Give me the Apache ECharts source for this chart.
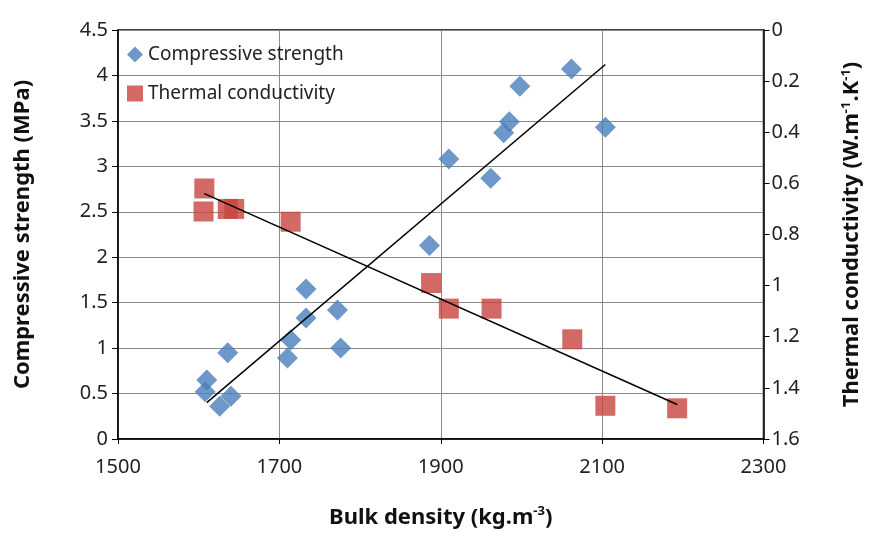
<!DOCTYPE html>
<html>
<head>
<meta charset="utf-8">
<script src="https://cdn.jsdelivr.net/npm/echarts@6/dist/echarts.min.js"></script>
<style>html,body{margin:0;padding:0;background:#fff}#c{width:871px;height:538px}</style>
</head>
<body>
<div id="c"></div>
<script>
// Compressive strength: [bulk density, MPa]
const csDensity = [1608, 1610, 1626, 1640, 1636, 1710, 1714, 1733, 1733, 1772, 1776, 1886, 1910, 1962, 1978, 1985, 1998, 2062, 2104];
const csValues  = [0.52, 0.65, 0.36, 0.47, 0.95, 0.89, 1.09, 1.33, 1.65, 1.42, 1.00, 2.13, 3.08, 2.87, 3.37, 3.49, 3.88, 4.07, 3.43];
// Thermal conductivity: [bulk density, W/m.K]
const tcDensity = [1607, 1606, 1636, 1644, 1714, 1888, 1910, 1963, 2063, 2104, 2193];
const tcValues  = [0.62, 0.71, 0.70, 0.70, 0.75, 0.99, 1.09, 1.09, 1.21, 1.47, 1.48];
// Trend line end points
const csTrendX = [1610, 2104];
const csTrendY = [0.40, 4.12];
const tcTrendX = [1607, 2193];
const tcTrendY = [0.64, 1.465];
// Axis ticks
const xTicks = [1500, 1700, 1900, 2100, 2300];
const leftTicks = [0, 0.5, 1, 1.5, 2, 2.5, 3, 3.5, 4, 4.5];
const rightTicks = [0, 0.2, 0.4, 0.6, 0.8, 1, 1.2, 1.4, 1.6];

const zip = (a, b) => a.map((v, i) => [v, b[i]]);
const FONT = 'Noto Sans';
const chart = echarts.init(document.getElementById('c'));
chart.setOption({
  animation: false,
  backgroundColor: '#fff',
  textStyle: { fontFamily: FONT },
  grid: { left: 118, right: 106, top: 30, bottom: 99, show: true, borderColor: '#000', borderWidth: 1.5, containLabel: false },
  legend: {
    orient: 'vertical', left: 122, top: 40, itemGap: 20, itemWidth: 16, itemHeight: 16,
    textStyle: { fontSize: 19, color: '#222', fontFamily: FONT },
    data: [{ name: 'Compressive strength', icon: 'diamond' }, { name: 'Thermal conductivity', icon: 'rect' }]
  },
  xAxis: {
    type: 'value', min: xTicks[0], max: xTicks[xTicks.length - 1], interval: 200,
    name: 'Bulk density (kg.m{sup|-3})', nameLocation: 'middle', nameGap: 66,
    nameTextStyle: { fontSize: 22, fontWeight: 'bold', color: '#111', fontFamily: FONT,
      rich: { sup: { fontSize: 13, fontWeight: 'bold', verticalAlign: 'top', padding: [0, 0, 12, 0], color: '#111' } } },
    axisLine: { lineStyle: { color: '#000', width: 1.5 } },
    axisTick: { show: true, length: 5, lineStyle: { color: '#000' } },
    axisLabel: { fontSize: 20, color: '#222', margin: 18, formatter: v => String(v) },
    splitLine: { show: true, lineStyle: { color: '#8a8a8a', width: 1 } }
  },
  yAxis: [{
    type: 'value', min: 0, max: 4.5, interval: 0.5, position: 'left',
    name: 'Compressive strength (MPa)', nameLocation: 'middle', nameGap: 84, nameRotate: 90,
    nameTextStyle: { fontSize: 22, fontWeight: 'bold', color: '#111', fontFamily: FONT },
    axisLine: { show: true, lineStyle: { color: '#000', width: 1.5 } },
    axisTick: { show: true, length: 6, lineStyle: { color: '#000' } },
    axisLabel: { fontSize: 20, color: '#222', margin: 10 },
    splitLine: { show: true, lineStyle: { color: '#8a8a8a', width: 1 } }
  }, {
    type: 'value', min: 0, max: 1.6, interval: 0.2, inverse: true, position: 'right',
    name: 'Thermal conductivity (W.m{sup|-1}.K{sup|-1})', nameLocation: 'middle', nameGap: 76, nameRotate: 90,
    nameTextStyle: { fontSize: 22, fontWeight: 'bold', color: '#111', fontFamily: FONT,
      rich: { sup: { fontSize: 13, fontWeight: 'bold', padding: [0, 0, 12, 0], color: '#111' } } },
    axisLine: { show: true, lineStyle: { color: '#000', width: 1.5 } },
    axisTick: { show: true, length: 6, lineStyle: { color: '#000' } },
    axisLabel: { fontSize: 20, color: '#222', margin: 8, formatter: v => String(Math.round(v * 10) / 10) },
    splitLine: { show: false }
  }],
  series: [{
    name: 'Compressive strength', type: 'scatter', yAxisIndex: 0, symbol: 'diamond', symbolSize: [21, 21],
    itemStyle: { color: '#4a7ebb' }, data: zip(csDensity, csValues), z: 3
  }, {
    name: 'Thermal conductivity', type: 'scatter', yAxisIndex: 1, symbol: 'rect', symbolSize: [20, 20],
    itemStyle: { color: '#c8433f' }, data: zip(tcDensity, tcValues), z: 3
  }, {
    name: 'csTrend', type: 'line', yAxisIndex: 0, symbol: 'none', silent: true,
    lineStyle: { color: '#000', width: 1.5 }, data: zip(csTrendX, csTrendY), z: 4
  }, {
    name: 'tcTrend', type: 'line', yAxisIndex: 1, symbol: 'none', silent: true,
    lineStyle: { color: '#000', width: 1.5 }, data: zip(tcTrendX, tcTrendY), z: 4
  }]
});
</script>
</body>
</html>
